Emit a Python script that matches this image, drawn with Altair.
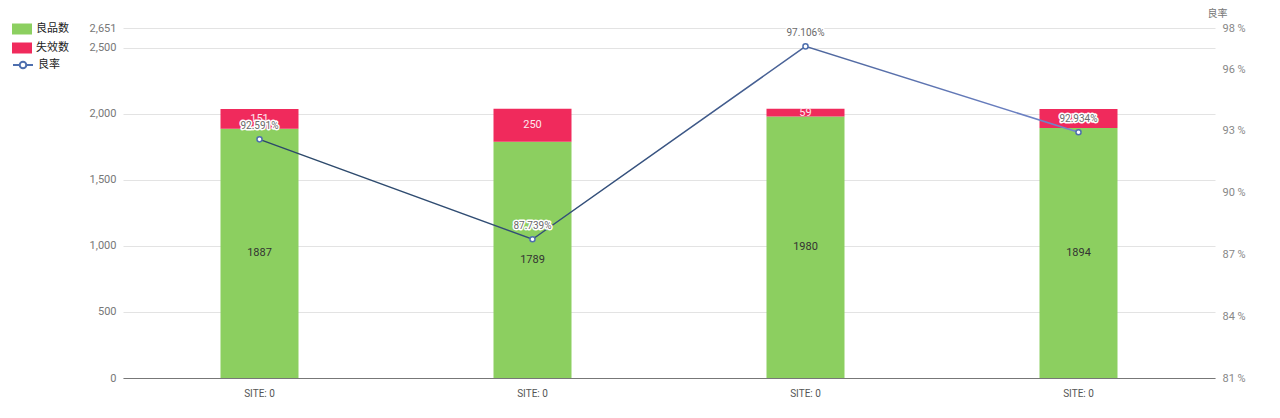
import altair as alt
import pandas as pd

# ---- data ----
site_labels = ["SITE: 0", "SITE: 0", "SITE: 0", "SITE: 0"]
site_index = [0, 1, 2, 3]
good_counts = [1887, 1789, 1980, 1894]
fail_counts = [151, 250, 59, 144]
yield_rates = [92.591, 87.739, 97.106, 92.934]
series_names = ["良品数", "失效数"]
rate_name = "良率"
left_ticks = [0, 500, 1000, 1500, 2000, 2500, 2651]
right_ticks = [81, 84, 87, 90, 93, 96, 98]

bars_df = pd.DataFrame(
    [{"idx": i, "type": series_names[0], "ord": 0, "value": g} for i, g in zip(site_index, good_counts)]
    + [{"idx": i, "type": series_names[1], "ord": 1, "value": f} for i, f in zip(site_index, fail_counts)]
)
rate_df = pd.DataFrame({"idx": site_index, "rate": yield_rates, "series": [rate_name] * len(site_index)})

label_expr = "[" + ",".join("'%s'" % s for s in site_labels) + "][datum.value]"

GREEN = "#8ccf60"
RED = "#f02a5c"
CJK = "Noto Sans CJK SC"

x_enc = alt.X(
    "idx:O",
    title=None,
    axis=alt.Axis(
        labelExpr=label_expr, labelAngle=0, ticks=False, labelPadding=10,
        labelColor="#555", labelFontSize=10, domainColor="#777", domainWidth=1.2,
        grid=False,
    ),
    scale=alt.Scale(paddingInner=0, paddingOuter=0),
)

y_left = alt.Scale(domain=[0, 2651], nice=False)
left_axis = alt.Axis(
    values=left_ticks, labelExpr="format(datum.value, ',.0f')", domain=False, ticks=False,
    labelPadding=7, labelColor="#777", labelFontSize=11,
    gridColor="#e3e3e3", gridWidth=1, title=None,
)

bars = alt.Chart(bars_df).mark_bar(size=78).encode(
    x=x_enc,
    y=alt.Y("value:Q", stack="zero", scale=y_left, title=None, axis=left_axis),
    color=alt.Color(
        "type:N",
        scale=alt.Scale(domain=series_names, range=[GREEN, RED]),
        legend=alt.Legend(
            orient="none", legendX=-111, legendY=-9, title=None,
            symbolType="M-1,-0.55H1V0.55H-1Z", symbolSize=400,
            symbolStrokeWidth=0, labelFontSize=11, labelColor="#222",
            labelFont=CJK, labelOffset=4, rowPadding=3,
        ),
    ),
    order=alt.Order("ord:Q", sort="ascending"),
)

bar_base = alt.Chart(bars_df).transform_stack(
    stack="value", groupby=["idx"], as_=["y0", "y1"], sort=[alt.SortField("ord", "ascending")]
).transform_calculate(mid="(datum.y0 + datum.y1) / 2")

good_text = bar_base.transform_filter(alt.datum.ord == 0).mark_text(
    fontSize=11, color="#333", baseline="middle"
).encode(
    x=x_enc,
    y=alt.Y("mid:Q", scale=y_left, title=None, axis=left_axis),
    text=alt.Text("value:Q"),
)

fail_text = bar_base.transform_filter(alt.datum.ord == 1).mark_text(
    fontSize=11, color="#fde6ee", baseline="middle"
).encode(
    x=x_enc,
    y=alt.Y("mid:Q", scale=y_left, title=None, axis=left_axis),
    text=alt.Text("value:Q"),
)

bar_layer = alt.layer(bars, good_text, fail_text)

y_right = alt.Scale(domain=[81, 98], nice=False, zero=False)
right_axis = alt.Axis(
    orient="right", values=right_ticks, labelExpr="datum.value + ' %'",
    domain=False, ticks=False, labelPadding=7, labelColor="#888",
    labelFontSize=11, gridColor="#e3e3e3", gridWidth=1,
    title=rate_name, titleAngle=0, titleX=2, titleY=-15,
    titleAlign="center", titleBaseline="middle", titleFontSize=10,
    titleFontWeight="normal", titleColor="#777", titleFont=CJK,
)

line = alt.Chart(rate_df).mark_line(
    strokeWidth=1.5,
    color=alt.Gradient(
        gradient="linear",
        stops=[
            alt.GradientStop(color="#2b4868", offset=0),
            alt.GradientStop(color="#34507c", offset=0.45),
            alt.GradientStop(color="#7387cc", offset=1),
        ],
        x1=0, x2=1, y1=0, y2=0,
    ),
).encode(
    x=x_enc,
    y=alt.Y("rate:Q", scale=y_right, axis=right_axis),
)

points = alt.Chart(rate_df).mark_point(
    shape="circle", fill="white", fillOpacity=1, size=26, strokeWidth=1.5, opacity=1
).encode(
    x=x_enc,
    y=alt.Y("rate:Q", scale=y_right, axis=right_axis),
    stroke=alt.Stroke(
        "series:N",
        scale=alt.Scale(domain=[rate_name], range=["#4e6fae"]),
        legend=alt.Legend(
            orient="none", legendX=-111, legendY=26, title=None,
            symbolType="M-1,0H-0.33M0.33,0H1M-0.33,0A0.33,0.33,0,1,0,0.33,0A0.33,0.33,0,1,0,-0.33,0Z",
            symbolSize=400, symbolStrokeWidth=2, symbolFillColor="white",
            labelFontSize=11, labelColor="#222", labelFont=CJK, labelOffset=4,
        ),
    ),
)

rate_halo = alt.Chart(rate_df).mark_text(
    dy=-13, fontSize=10, stroke="white", strokeWidth=3, fill="white", strokeJoin="round"
).transform_calculate(lbl="format(datum.rate, '.3f') + '%'").encode(
    x=x_enc,
    y=alt.Y("rate:Q", scale=y_right, axis=right_axis),
    text="lbl:N",
)

rate_text = alt.Chart(rate_df).mark_text(
    dy=-13, fontSize=10, color="#6a6a6a"
).transform_calculate(lbl="format(datum.rate, '.3f') + '%'").encode(
    x=x_enc,
    y=alt.Y("rate:Q", scale=y_right, axis=right_axis),
    text="lbl:N",
)

line_layer = alt.layer(line, points, rate_halo, rate_text)

chart = alt.layer(bar_layer, line_layer).resolve_scale(
    y="independent", color="independent", stroke="independent"
).properties(
    width=1092, height=350,
    autosize=alt.AutoSizeParams(type="none"),
    padding={"left": 115, "top": 20, "right": 50, "bottom": 30},
    background="white",
).configure(font="Roboto").configure_view(stroke=None)

chart.save("out.html", embed_options={"renderer": "svg", "actions": False})
